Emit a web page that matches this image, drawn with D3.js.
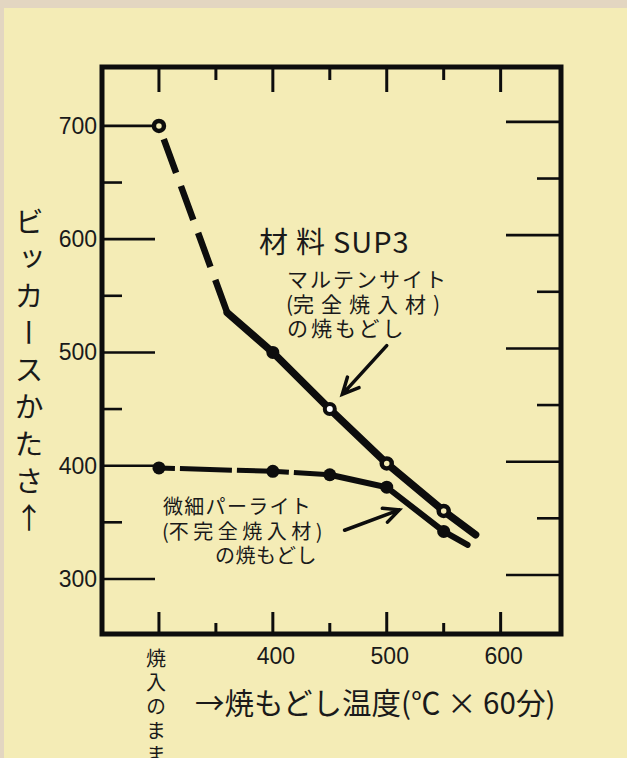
<!DOCTYPE html>
<html>
<head>
<meta charset="utf-8">
<script src="https://cdn.jsdelivr.net/npm/d3@7/dist/d3.min.js"></script>
<style>
  html, body { margin: 0; padding: 0; background: #e3d6c1; }
  svg { display: block; }
</style>
</head>
<body>
<svg id="chart" width="627" height="758"></svg>
<script>
// axis ticks
const xTicks = [300, 350, 400, 450, 500, 550, 600];
const xLabels = [400, 500, 600];
const yTicks = [300, 350, 400, 450, 500, 550, 600, 650, 700];
const yLabels = [300, 400, 500, 600, 700];

// マルテンサイト（完全焼入材）の焼もどし  — x=300 is the "焼入のまま" column
const martTemp = [300, 360, 400, 450, 500, 550, 578];
const martHv   = [700, 535, 500, 450, 402, 360, 339];
const martMark = ["ring", "", "dot", "white", "ring", "ring", ""];
const martDashedUntil = 1;

// 微細パーライト（不完全焼入材）の焼もどし
const pearlTemp = [300, 400, 450, 500, 550, 571];
const pearlHv   = [398, 395, 392, 381, 342, 330];
const pearlMark = ["dot", "dot", "dot", "dot", "dot", ""];
const pearlDashedUntil = 2;

// arrows (data units): [from, to]
const martArrow  = [[500, 506], [461, 463]];
const pearlArrow = [[463, 343], [511, 361]];

const bg = "#f4ecb6";
const ink = "#0d0d0d";
const jp = "'Noto Sans CJK JP', 'Noto Sans', sans-serif";
const num = "'Liberation Sans', Arial, sans-serif";

const svg = d3.select("#chart");

svg.append("rect")
  .attr("x", 4).attr("y", 8)
  .attr("width", 623).attr("height", 750)
  .attr("fill", bg);

const pLeft = 102, pRight = 561, pTop = 67, pBottom = 634;

const x = d3.scaleLinear().domain([250, 653]).range([pLeft, pRight]);
const y = d3.scaleLinear().domain([251.4, 752]).range([pBottom, pTop]);

// ticks on all four sides
const g = svg.append("g");
g.selectAll(".lt").data(yTicks).join("line")
  .attr("x1", pLeft).attr("x2", d => pLeft + (d % 100 === 0 ? 53 : 20))
  .attr("y1", d => y(d)).attr("y2", d => y(d))
  .attr("stroke", ink).attr("stroke-width", 2.6);
g.selectAll(".rt").data(yTicks).join("line")
  .attr("x1", pRight).attr("x2", d => pRight - (d % 100 === 0 ? 55 : 24))
  .attr("y1", d => y(d) - 4).attr("y2", d => y(d) - 4)
  .attr("stroke", ink).attr("stroke-width", 2.6);
g.selectAll(".bt").data(xTicks).join("line")
  .attr("x1", d => x(d)).attr("x2", d => x(d))
  .attr("y1", pBottom).attr("y2", d => pBottom - (d % 100 === 0 ? 22 : 11))
  .attr("stroke", ink).attr("stroke-width", 3);
g.selectAll(".tt").data(xTicks).join("line")
  .attr("x1", d => x(d)).attr("x2", d => x(d))
  .attr("y1", pTop).attr("y2", d => pTop + (d % 100 === 0 ? 25 : 13))
  .attr("stroke", ink).attr("stroke-width", 3);

// frame
svg.append("rect")
  .attr("x", pLeft).attr("y", pTop)
  .attr("width", pRight - pLeft).attr("height", pBottom - pTop)
  .attr("fill", "none").attr("stroke", ink).attr("stroke-width", 5);

// tick labels
svg.selectAll(".yl").data(yLabels).join("text")
  .attr("x", pLeft - 5).attr("y", d => y(d) + 8)
  .attr("text-anchor", "end")
  .style("font-family", num).style("font-size", "23px").attr("fill", "#1a1a1a")
  .text(d => d);
svg.selectAll(".xl").data(xLabels).join("text")
  .attr("x", d => x(d) + 3).attr("y", pBottom + 30)
  .attr("text-anchor", "middle")
  .style("font-family", num).style("font-size", "23px").attr("fill", "#1a1a1a")
  .text(d => d);

// curves
function drawCurve(temps, hv, split, width, dash) {
  const pts = temps.map((t, i) => [x(t), y(hv[i])]);
  const line = d3.line();
  svg.append("path")
    .attr("d", line(pts.slice(0, split + 1)))
    .attr("fill", "none").attr("stroke", ink)
    .attr("stroke-width", width).attr("stroke-dasharray", dash)
    .attr("stroke-dashoffset", 36);
  svg.append("path")
    .attr("d", line(pts.slice(split)))
    .attr("fill", "none").attr("stroke", ink)
    .attr("stroke-width", width + 1).attr("stroke-linecap", "round");
}
drawCurve(martTemp, martHv, martDashedUntil, 6.5, "36 14");
drawCurve(pearlTemp, pearlHv, pearlDashedUntil, 5, "52 5");

function drawMarks(temps, hv, marks) {
  temps.forEach((t, i) => {
    const m = marks[i];
    if (!m) return;
    if (m === "dot") {
      svg.append("circle").attr("cx", x(t)).attr("cy", y(hv[i])).attr("r", 6.5).attr("fill", ink);
    } else {
      svg.append("circle").attr("cx", x(t)).attr("cy", y(hv[i])).attr("r", 5)
        .attr("fill", m === "white" ? "#ffffff" : bg)
        .attr("stroke", ink).attr("stroke-width", m === "white" ? 4 : 4.5);
    }
  });
}
drawMarks(martTemp, martHv, martMark);
drawMarks(pearlTemp, pearlHv, pearlMark);

// arrows
function arrow(a, headLen) {
  const [x1, y1] = [x(a[0][0]), y(a[0][1])];
  const [x2, y2] = [x(a[1][0]), y(a[1][1])];
  const ang = Math.atan2(y2 - y1, x2 - x1);
  const w1 = ang + Math.PI - 0.45, w2 = ang + Math.PI + 0.45;
  svg.append("path")
    .attr("d", `M${x1},${y1}L${x2},${y2}M${x2 + headLen * Math.cos(w1)},${y2 + headLen * Math.sin(w1)}L${x2},${y2}L${x2 + headLen * Math.cos(w2)},${y2 + headLen * Math.sin(w2)}`)
    .attr("fill", "none").attr("stroke", ink).attr("stroke-width", 3.5)
    .attr("stroke-linecap", "round").attr("stroke-linejoin", "miter");
}
arrow(martArrow, 18);
arrow(pearlArrow, 17);

// annotations: parts = [[text, letterSpacing], ...]
function txt(parts, px, py, size, extra) {
  const t = svg.append("text")
    .attr("x", px).attr("y", py)
    .style("font-family", jp).style("font-size", size + "px")
    .attr("fill", "#1a1a1a");
  parts.forEach(([s, ls]) => t.append("tspan").style("letter-spacing", ls + "px").text(s));
  if (extra) extra(t);
  return t;
}
txt([["材料", 8], ["SUP3", 1]], 259, 253, 29);
txt([["マルテンサイト", 2]], 287, 287, 21);
txt([["(", 0], ["完全焼入材", 7], [")", 0]], 286, 312, 21);
txt([["の焼もどし", 3]], 287, 336, 21);
txt([["微細パーライト", 1.3]], 163, 514, 20);
txt([["(", 0], ["不完全焼入材", 4.5], [")", 0]], 162, 539, 20);
txt([["の焼もどし", 0.5]], 215, 563, 20);

// axis titles
txt([["→焼もどし温度", 0], ["(", 0], ["℃ × 60", 0], ["分", 0], [")", 0]], 195, 714, 29.5);

function vtext(s, px, py, size, spacing) {
  return svg.append("text")
    .attr("x", px).attr("y", py)
    .style("font-family", jp).style("font-size", size + "px")
    .style("writing-mode", "vertical-rl").style("text-orientation", "upright")
    .style("letter-spacing", spacing + "px")
    .attr("fill", "#1a1a1a").text(s);
}
vtext("ビッカースかたさ↑", 29, 207, 29, 8);
vtext("焼入のまま", 156, 648, 20, 4);
</script>
</body>
</html>
